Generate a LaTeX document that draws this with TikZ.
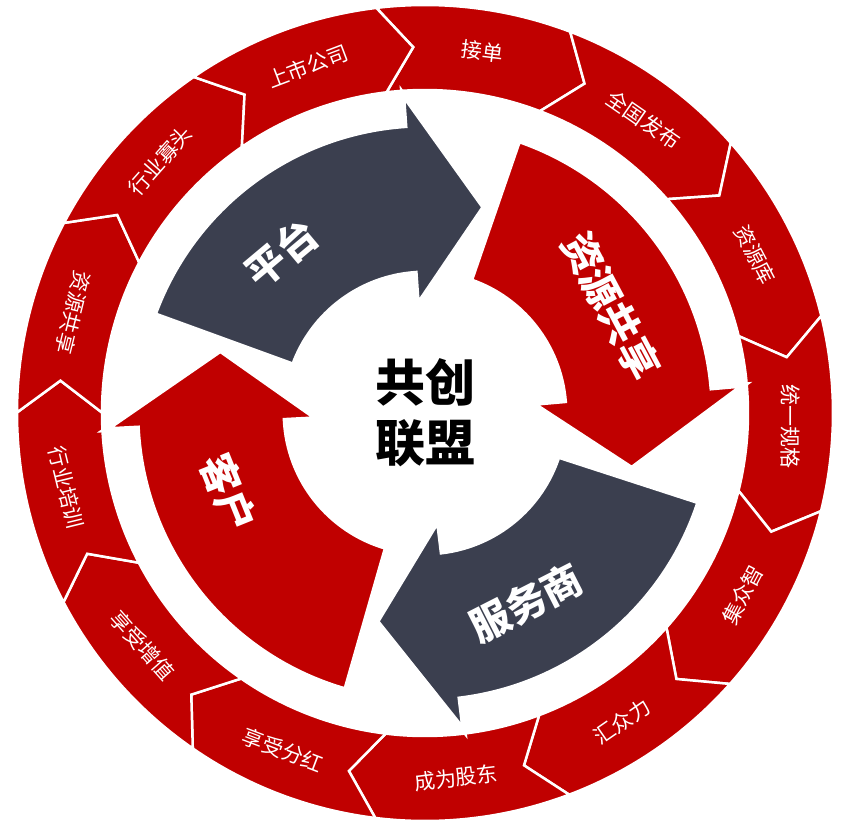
\documentclass[tikz,border=0pt]{standalone}
\usepackage{fontspec}
\setmainfont{Noto Sans CJK SC}
\newfontfamily\cjk{Noto Sans CJK SC}
\definecolor{ringred}{HTML}{C00000}
\definecolor{slate}{HTML}{3B3F4F}
\tikzset{
  seg/.style={fill=ringred, draw=white, line width=2.5pt, line join=miter},
  turn/.style={draw=white, line width=5pt, line join=miter},
  seglabel/.style={text=white, font=\cjk\fontsize{21}{23}\selectfont},
  turnlabel/.style={text=white, font=\cjk\bfseries\fontsize{40}{44}\selectfont}
}
\begin{document}
\begin{tikzpicture}[x=1pt,y=1pt]
\useasboundingbox (-425,-414) rectangle (425,413);

% outer ring of chevrons
\def\h{13.846}
\foreach \lab [count=\i from 0] in {接单,全国发布,资源库,统一规格,集众智,汇众力,成为股东,享受分红,享受增值,行业培训,资源共享,行业寡头,上市公司}{
  \pgfmathsetmacro\t{83-27.692*\i}
  \pgfmathsetmacro\rot{(\t<-5 && \t>-200) ? \t+90 : \t-90}
  \draw[seg] (\t+\h:408) arc[start angle=\t+\h, end angle=\t-\h, radius=408]
    -- (\t-\h-5:366) -- (\t-\h:323) arc[start angle=\t-\h, end angle=\t+\h, radius=323]
    -- (\t+\h-5:366) -- cycle;
  \node[seglabel, rotate=\rot] (s\i) at (\t-2:366) {\lab};
}

% inner turning arrows
\foreach \tl/\bs/\col [count=\j] in {-106/-177/ringred, 160/94/slate, 71/5/ringred, -18/-83/slate}{
  \pgfmathsetmacro\tp{\bs-20}
  \draw[turn, fill=\col] (\tl:288) arc[start angle=\tl, end angle=\bs, radius=288]
    -- (\bs:320) -- (\tp:214) -- (\bs:108) -- (\bs:140)
    arc[start angle=\bs, end angle=\tl, radius=140] -- cycle;
}
\node[turnlabel, rotate=-68] (kehu) at (-158:212) {客户};
\node[turnlabel, rotate=40] (pingtai) at (132:215) {平台};
\node[turnlabel, rotate=-62] (ziyuan) at (30:215) {资源共享};
\node[turnlabel, rotate=27] (fuwu) at (-62:215) {服务商};

\node[align=center, font=\cjk\bfseries\fontsize{50}{60}\selectfont] (core) at (0,0) {共创\\联盟};
\end{tikzpicture}
\end{document}
